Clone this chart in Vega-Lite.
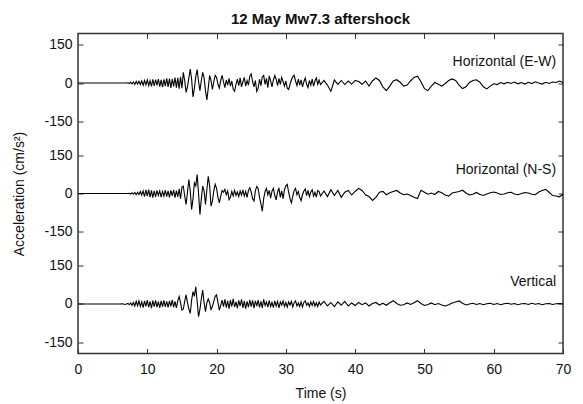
{
"$schema":"https://vega.github.io/schema/vega-lite/v6.json",
"width":485,"height":320,
"autosize":{"type":"none"},
"padding":{"left":78,"top":33.5,"right":20,"bottom":50.5},
"title":{"text":"12 May Mw7.3 aftershock","fontSize":15,"fontWeight":"bold","font":"Liberation Sans","color":"#111","baseline":"alphabetic","offset":11,"dy":17},
"config":{
 "view":{"stroke":"#333","strokeWidth":1.5},
 "font":"Liberation Sans",
 "axis":{"domain":false,"grid":false,"tickColor":"#333","tickWidth":1,"tickSize":-5,"labelFontSize":14,"labelColor":"#111","labelFont":"Liberation Sans","titleFont":"Liberation Sans","titleFontSize":14,"titleFontWeight":"normal","titleColor":"#111"}
},
"data":{"values":[
{"t":0,"e":0,"n":0,"v":0},{"t":6.0,"e":0,"n":0,"v":0},{"t":6.4,"e":0,"n":0,"v":1},{"t":6.8,"e":0,"n":0,"v":-2},
{"t":7.0,"e":0,"n":0,"v":0},{"t":7.2,"e":1,"n":0,"v":2},{"t":7.4,"e":-2,"n":1,"v":-3},{"t":7.6,"e":3,"n":-2,"v":4},{"t":7.8,"e":-3,"n":3,"v":-5},
{"t":8.0,"e":4,"n":-3,"v":6},{"t":8.2,"e":-5,"n":4,"v":-8},{"t":8.4,"e":6,"n":-5,"v":10},{"t":8.6,"e":-4,"n":5,"v":-7},{"t":8.8,"e":7,"n":-4,"v":12},
{"t":9.0,"e":-6,"n":8,"v":-10},{"t":9.2,"e":8,"n":-6,"v":8},{"t":9.4,"e":-9,"n":10,"v":-14},{"t":9.6,"e":10,"n":-12,"v":12},{"t":9.8,"e":-7,"n":14,"v":-9},
{"t":10.0,"e":12,"n":-10,"v":15},{"t":10.2,"e":-10,"n":15,"v":-12},{"t":10.4,"e":9,"n":-14,"v":10},{"t":10.6,"e":-13,"n":12,"v":-16},{"t":10.8,"e":14,"n":-16,"v":13},
{"t":11.0,"e":-11,"n":10,"v":-10},{"t":11.2,"e":13,"n":-13,"v":14},{"t":11.4,"e":-9,"n":12,"v":-12},{"t":11.6,"e":15,"n":-8,"v":9},{"t":11.8,"e":-14,"n":10,"v":-15},
{"t":12.0,"e":12,"n":-14,"v":12},{"t":12.2,"e":-16,"n":8,"v":-10},{"t":12.4,"e":14,"n":-10,"v":14},{"t":12.6,"e":-12,"n":13,"v":-11},{"t":12.8,"e":18,"n":-12,"v":10},
{"t":13.0,"e":-15,"n":10,"v":-13},{"t":13.2,"e":17,"n":-15,"v":12},{"t":13.4,"e":-19,"n":12,"v":-9},{"t":13.6,"e":16,"n":-9,"v":16},{"t":13.8,"e":-13,"n":14,"v":-12},
{"t":14.0,"e":21,"n":-16,"v":10},{"t":14.2,"e":-18,"n":11,"v":-15},{"t":14.4,"e":20,"n":-13,"v":12},{"t":14.6,"e":-22,"n":18,"v":29},{"t":14.8,"e":24,"n":-20,"v":5},
{"t":15.0,"e":-20,"n":25,"v":-24},{"t":15.2,"e":42,"n":29,"v":-20},{"t":15.4,"e":10,"n":-10,"v":10},{"t":15.6,"e":-37,"n":-43,"v":36},{"t":15.8,"e":-15,"n":5,"v":5},
{"t":16.0,"e":20,"n":55,"v":-20},{"t":16.2,"e":55,"n":10,"v":-37},{"t":16.4,"e":15,"n":-63,"v":15},{"t":16.6,"e":-55,"n":-20,"v":49},{"t":16.8,"e":-20,"n":42,"v":30},
{"t":17.0,"e":25,"n":30,"v":68},{"t":17.2,"e":53,"n":75,"v":10},{"t":17.4,"e":5,"n":0,"v":-50},{"t":17.6,"e":-30,"n":-83,"v":-20},{"t":17.8,"e":10,"n":-20,"v":20},
{"t":18.0,"e":42,"n":29,"v":55},{"t":18.2,"e":20,"n":10,"v":5},{"t":18.4,"e":-30,"n":-43,"v":-30},{"t":18.6,"e":-67,"n":15,"v":5},{"t":18.8,"e":-20,"n":68,"v":20},
{"t":19.0,"e":30,"n":30,"v":5},{"t":19.2,"e":10,"n":-50,"v":-22},{"t":19.4,"e":-25,"n":-30,"v":-10},{"t":19.6,"e":5,"n":10,"v":10},{"t":19.8,"e":30,"n":36,"v":30},
{"t":20.0,"e":22,"n":20,"v":36},{"t":20.2,"e":-5,"n":-15,"v":5},{"t":20.4,"e":-20,"n":-37,"v":-24},{"t":20.6,"e":10,"n":-10,"v":-5},{"t":20.8,"e":30,"n":12,"v":15},
{"t":21.0,"e":5,"n":5,"v":-10},{"t":21.2,"e":-18,"n":16,"v":18},{"t":21.4,"e":12,"n":-5,"v":-14},{"t":21.6,"e":-8,"n":10,"v":12},{"t":21.8,"e":18,"n":-24,"v":-18},
{"t":22.0,"e":-12,"n":-15,"v":15},{"t":22.2,"e":8,"n":8,"v":-10},{"t":22.4,"e":-25,"n":-10,"v":20},{"t":22.6,"e":-33,"n":12,"v":-12},{"t":22.8,"e":-5,"n":-8,"v":8},
{"t":23.0,"e":15,"n":6,"v":-16},{"t":23.2,"e":-10,"n":-12,"v":14},{"t":23.4,"e":20,"n":10,"v":-8},{"t":23.6,"e":-15,"n":-6,"v":18},{"t":23.8,"e":5,"n":14,"v":-15},
{"t":24.0,"e":22,"n":-10,"v":12},{"t":24.2,"e":-12,"n":8,"v":-18},{"t":24.4,"e":10,"n":-15,"v":10},{"t":24.6,"e":-8,"n":12,"v":-12},{"t":24.8,"e":28,"n":23,"v":16},
{"t":25.0,"e":36,"n":5,"v":-10},{"t":25.2,"e":5,"n":-20,"v":14},{"t":25.4,"e":-15,"n":-30,"v":-16},{"t":25.6,"e":10,"n":10,"v":12},{"t":25.8,"e":-33,"n":28,"v":-8},
{"t":26.0,"e":-20,"n":20,"v":15},{"t":26.2,"e":15,"n":-15,"v":-13},{"t":26.4,"e":-10,"n":-40,"v":10},{"t":26.6,"e":25,"n":-70,"v":-15},{"t":26.8,"e":30,"n":-20,"v":18},
{"t":27.0,"e":-5,"n":8,"v":-6},{"t":27.2,"e":18,"n":20,"v":8},{"t":27.4,"e":-18,"n":-5,"v":-12},{"t":27.6,"e":28,"n":12,"v":14},{"t":27.8,"e":8,"n":-18,"v":-10},
{"t":28.0,"e":-15,"n":10,"v":6},{"t":28.2,"e":12,"n":20,"v":-14},{"t":28.4,"e":30,"n":-8,"v":12},{"t":28.6,"e":15,"n":-25,"v":-8},{"t":28.8,"e":-10,"n":5,"v":10},
{"t":29.0,"e":18,"n":22,"v":-15},{"t":29.2,"e":-5,"n":-15,"v":8},{"t":29.4,"e":22,"n":10,"v":-5},{"t":29.6,"e":5,"n":-20,"v":12},{"t":29.8,"e":-12,"n":15,"v":-10},
{"t":30.0,"e":8,"n":30,"v":6},{"t":30.2,"e":-20,"n":36,"v":-12},{"t":30.4,"e":-25,"n":5,"v":8},{"t":30.6,"e":-5,"n":-20,"v":-4},{"t":30.8,"e":12,"n":-37,"v":10},
{"t":31.0,"e":25,"n":-10,"v":-12},{"t":31.2,"e":30,"n":12,"v":5},{"t":31.4,"e":8,"n":20,"v":12},{"t":31.6,"e":-10,"n":-5,"v":-8},{"t":31.8,"e":15,"n":8,"v":4},
{"t":32.0,"e":-8,"n":-15,"v":-10},{"t":32.2,"e":12,"n":-28,"v":8},{"t":32.4,"e":-15,"n":-5,"v":-12},{"t":32.6,"e":5,"n":10,"v":6},{"t":32.8,"e":20,"n":18,"v":12},
{"t":33.0,"e":-5,"n":-8,"v":-5},{"t":33.2,"e":-18,"n":12,"v":4},{"t":33.4,"e":10,"n":-12,"v":-10},{"t":33.6,"e":-8,"n":6,"v":8},{"t":33.8,"e":15,"n":15,"v":-6},
{"t":34.0,"e":-12,"n":-10,"v":10},{"t":34.2,"e":8,"n":5,"v":-8},{"t":34.4,"e":20,"n":-14,"v":5},{"t":34.6,"e":-5,"n":12,"v":-10},{"t":34.8,"e":12,"n":8,"v":8},
{"t":35.0,"e":-6,"n":-10,"v":-4},{"t":35.5,"e":10,"n":10,"v":10},{"t":36.0,"e":-8,"n":-12,"v":-8},{"t":36.5,"e":-33,"n":15,"v":6},{"t":37.0,"e":12,"n":-8,"v":-10},
{"t":37.5,"e":-5,"n":12,"v":8},{"t":38.0,"e":10,"n":-15,"v":-5},{"t":38.5,"e":-6,"n":5,"v":10},{"t":39.0,"e":8,"n":12,"v":-8},{"t":39.5,"e":-4,"n":-6,"v":4},
{"t":40.0,"e":10,"n":8,"v":-6},{"t":40.5,"e":6,"n":20,"v":6},{"t":41.0,"e":-5,"n":12,"v":-3},{"t":41.5,"e":8,"n":-5,"v":4},{"t":42.0,"e":-12,"n":-12,"v":-8},
{"t":42.5,"e":8,"n":-27,"v":2},{"t":43.0,"e":20,"n":-15,"v":6},{"t":43.5,"e":10,"n":5,"v":-4},{"t":44.0,"e":-15,"n":8,"v":3},{"t":44.5,"e":-30,"n":-5,"v":-5},
{"t":45.0,"e":-12,"n":3,"v":5},{"t":45.5,"e":8,"n":8,"v":13},{"t":46.0,"e":13,"n":12,"v":2},{"t":46.5,"e":3,"n":2,"v":-5},{"t":47.0,"e":-12,"n":-5,"v":-3},
{"t":47.5,"e":-8,"n":-2,"v":4},{"t":48.0,"e":8,"n":-8,"v":-2},{"t":48.5,"e":22,"n":-15,"v":5},{"t":49.0,"e":27,"n":-20,"v":13},{"t":49.5,"e":5,"n":13,"v":2},
{"t":50.0,"e":-22,"n":5,"v":-6},{"t":50.5,"e":-30,"n":-3,"v":-2},{"t":51.0,"e":-12,"n":2,"v":4},{"t":51.5,"e":2,"n":-4,"v":-3},{"t":52.0,"e":-5,"n":8,"v":2},
{"t":52.5,"e":-12,"n":3,"v":-4},{"t":53.0,"e":-2,"n":-6,"v":-8},{"t":53.5,"e":10,"n":-10,"v":-3},{"t":54.0,"e":16,"n":2,"v":4},{"t":54.5,"e":10,"n":5,"v":8},
{"t":55.0,"e":-8,"n":8,"v":12},{"t":55.5,"e":-22,"n":13,"v":3},{"t":56.0,"e":-15,"n":2,"v":-4},{"t":56.5,"e":2,"n":-6,"v":0},{"t":57.0,"e":10,"n":-3,"v":3},
{"t":57.5,"e":13,"n":4,"v":-2},{"t":58.0,"e":3,"n":-4,"v":2},{"t":58.5,"e":-15,"n":-8,"v":-3},{"t":59.0,"e":-23,"n":-2,"v":1},{"t":59.5,"e":-12,"n":3,"v":3},
{"t":60.0,"e":-3,"n":6,"v":-2},{"t":60.5,"e":-6,"n":2,"v":2},{"t":61.0,"e":2,"n":-4,"v":-3},{"t":61.5,"e":-3,"n":-2,"v":1},{"t":62.0,"e":3,"n":3,"v":3},
{"t":62.5,"e":-2,"n":5,"v":-1},{"t":63.0,"e":4,"n":-2,"v":2},{"t":63.5,"e":-3,"n":-5,"v":-3},{"t":64.0,"e":2,"n":0,"v":1},{"t":64.5,"e":-4,"n":4,"v":2},
{"t":65.0,"e":3,"n":2,"v":-2},{"t":65.5,"e":-2,"n":-3,"v":3},{"t":66.0,"e":5,"n":-5,"v":-1},{"t":66.5,"e":0,"n":6,"v":2},{"t":67.0,"e":-4,"n":12,"v":-3},
{"t":67.5,"e":3,"n":16,"v":1},{"t":68.0,"e":-2,"n":5,"v":2},{"t":68.5,"e":4,"n":-8,"v":-2},{"t":69.0,"e":2,"n":-10,"v":1},{"t":69.5,"e":8,"n":-13,"v":2},
{"t":70.0,"e":2,"n":-3,"v":0}
]},
"layer":[
 {"layer":[
  {"mark":{"type":"line","color":"#000","strokeWidth":1.1},
   "encoding":{
    "x":{"field":"t","type":"quantitative","scale":{"domain":[0,70],"nice":false,"zero":false},"axis":{"orient":"top","values":[10,20,30,40,50,60],"labels":false,"title":null}},
    "y":{"field":"e","type":"quantitative","scale":{"domain":[-1065,195],"nice":false,"zero":false},"axis":{"orient":"left","values":[-150,0,150],"labelExpr":"'' + datum.value","labelPadding":11,"title":null}}}},
  {"data":{"values":[{"t":69,"e":84,"label":"Horizontal (E-W)"}]},
   "mark":{"type":"text","align":"right","baseline":"middle","fontSize":14,"font":"Liberation Sans","color":"#111"},
   "encoding":{
    "x":{"field":"t","type":"quantitative","scale":{"domain":[0,70],"nice":false,"zero":false},"axis":{"orient":"top","values":[10,20,30,40,50,60],"labels":false,"title":null}},
    "y":{"field":"e","type":"quantitative","scale":{"domain":[-1065,195],"nice":false,"zero":false},"axis":{"orient":"right","values":[-150,0,150],"labels":false,"title":null}},
    "text":{"field":"label"}}}
 ],"resolve":{"axis":{"y":"independent"}}},
 {"layer":[
  {"mark":{"type":"line","color":"#000","strokeWidth":1.1},
   "encoding":{
    "x":{"field":"t","type":"quantitative","scale":{"domain":[0,70],"nice":false,"zero":false},"axis":{"orient":"bottom","values":[0,10,20,30,40,50,60,70],"title":"Time (s)","labelPadding":14,"titleY":33,"labelFlush":false}},
    "y":{"field":"n","type":"quantitative","scale":{"domain":[-630,630],"nice":false,"zero":false},"axis":{"orient":"left","values":[-150,0,150],"labelExpr":"'' + datum.value","labelPadding":11,"title":"Acceleration (cm/s²)","titleX":-55,"titleBaseline":"alphabetic"}}}},
  {"data":{"values":[{"t":69,"n":92,"label":"Horizontal (N-S)"}]},
   "mark":{"type":"text","align":"right","baseline":"middle","fontSize":14,"font":"Liberation Sans","color":"#111"},
   "encoding":{
    "x":{"field":"t","type":"quantitative","scale":{"domain":[0,70],"nice":false,"zero":false},"axis":{"orient":"bottom","values":[0,10,20,30,40,50,60,70],"title":"Time (s)","labelPadding":14,"titleY":33,"labelFlush":false}},
    "y":{"field":"n","type":"quantitative","scale":{"domain":[-630,630],"nice":false,"zero":false},"axis":{"orient":"right","values":[-150,0,150],"labels":false,"title":null}},
    "text":{"field":"label"}}}
 ],"resolve":{"axis":{"y":"independent"}}},
 {"layer":[
  {"mark":{"type":"line","color":"#000","strokeWidth":1.1},
   "encoding":{
    "x":{"field":"t","type":"quantitative","scale":{"domain":[0,70],"nice":false,"zero":false},"axis":null},
    "y":{"field":"v","type":"quantitative","scale":{"domain":[-195,1065],"nice":false,"zero":false},"axis":{"orient":"left","values":[-150,0,150],"labelExpr":"'' + datum.value","labelPadding":11,"title":null}}}},
  {"data":{"values":[{"t":69,"v":86,"label":"Vertical"}]},
   "mark":{"type":"text","align":"right","baseline":"middle","fontSize":14,"font":"Liberation Sans","color":"#111"},
   "encoding":{
    "x":{"field":"t","type":"quantitative","scale":{"domain":[0,70],"nice":false,"zero":false},"axis":null},
    "y":{"field":"v","type":"quantitative","scale":{"domain":[-195,1065],"nice":false,"zero":false},"axis":{"orient":"right","values":[-150,0,150],"labels":false,"title":null}},
    "text":{"field":"label"}}}
 ],"resolve":{"axis":{"y":"independent"}}}
],
"resolve":{"scale":{"y":"independent"},"axis":{"x":"independent","y":"independent"}}
}
